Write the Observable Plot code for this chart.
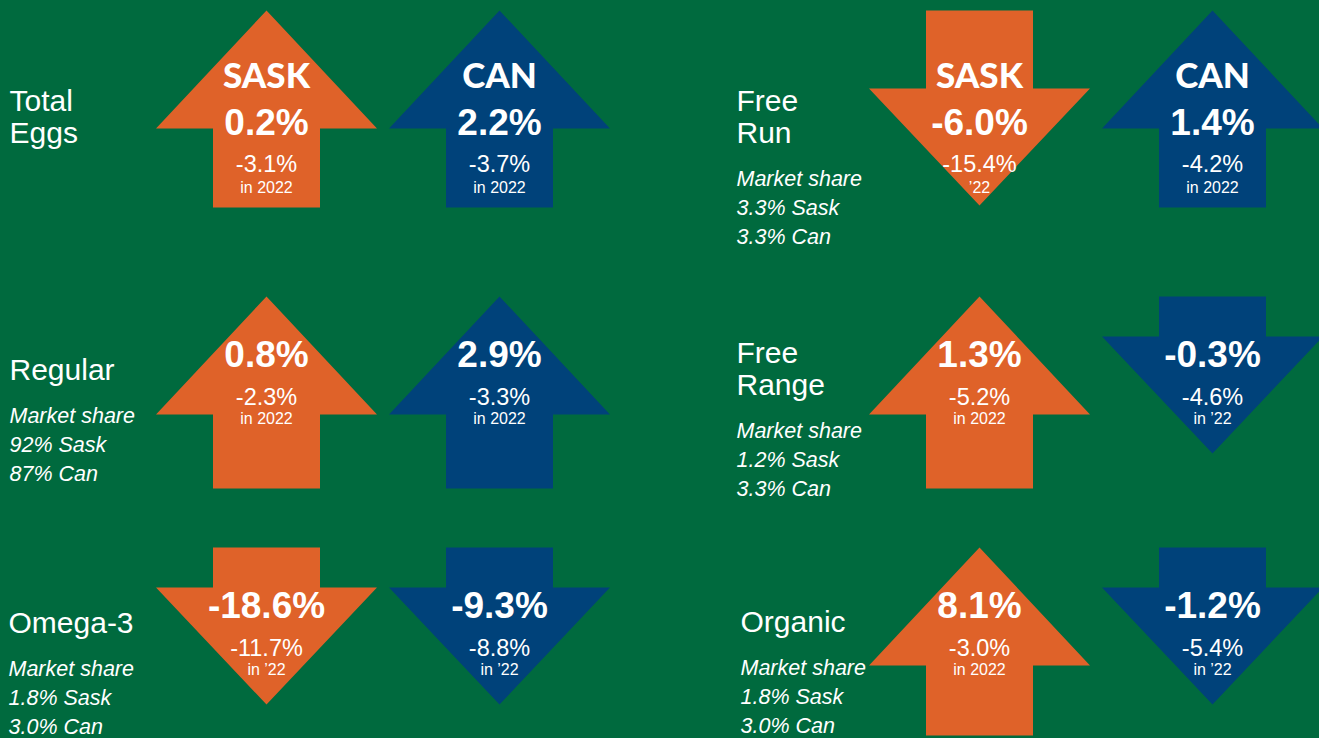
<!DOCTYPE html>
<html>
<head>
<meta charset="utf-8">
<script src="https://cdn.jsdelivr.net/npm/d3@7"></script>
<script src="https://cdn.jsdelivr.net/npm/@observablehq/plot@0.6"></script>
<style>
  html, body { margin: 0; padding: 0; background: #006a3e; overflow: hidden; }
  #chart svg { display: block; }
</style>
</head>
<body>
<div id="chart"></div>
<script>
// ---- Data ----
const categories = ["Total Eggs", "Regular", "Omega-3", "Free Run", "Free Range", "Organic"];
const series = ["SASK", "CAN"];
const sask2023 = [0.2, 0.8, -18.6, -6.0, 1.3, 8.1];
const can2023 = [2.2, 2.9, -9.3, 1.4, -0.3, -1.2];
const sask2022 = [-3.1, -2.3, -11.7, -15.4, -5.2, -3.0];
const can2022 = [-3.7, -3.3, -8.8, -4.2, -4.6, -5.4];
const saskYearLabel = ["in 2022", "in 2022", "in \u201922", "\u201922", "in 2022", "in 2022"];
const canYearLabel = ["in 2022", "in 2022", "in \u201922", "in 2022", "in \u201922", "in \u201922"];
const shareSask = [null, 92, 1.8, 3.3, 1.2, 1.8];
const shareCan = [null, 87, 3.0, 3.3, 3.3, 3.0];

// ---- Layout (styling only) ----
const W = 1319, H = 738;
const ORANGE = "#df6229", BLUE = "#00427a", GREEN = "#006a3e";
const rowTop = [10, 296, 547];
const colX = [[266, 499], [979, 1212]];
const upLen = [197, 192, 188];
const headH = 118, headHalf = 110.5, shaftHalf = 53.5;
const slotNameX = [[9, 9, 8], [736, 736, 740]];
const slotNameY = [[101, 370, 623], [101, 353, 622]];

const fmtPct = v => v.toFixed(1) + "%";
const fmtShare = v => (Math.abs(v) >= 10 ? v.toFixed(0) : v.toFixed(1)) + "%";

const arrowPts = [];
const headers = [], values = [], subs = [], years = [];
const names = [], shares = [];

categories.forEach((cat, i) => {
  const panel = Math.floor(i / 3), row = i % 3;
  const top = rowTop[row];
  const v23 = [sask2023[i], can2023[i]];
  const v22 = [sask2022[i], can2022[i]];
  const yl = [saskYearLabel[i], canYearLabel[i]];
  series.forEach((s, j) => {
    const cx = colX[panel][j];
    const id = cat + "-" + s;
    const v = v23[j];
    let pts;
    if (v >= 0) {
      const bottom = top + upLen[row];
      const hb = top + headH;
      pts = [[cx, top], [cx + headHalf, hb], [cx + shaftHalf, hb], [cx + shaftHalf, bottom],
             [cx - shaftHalf, bottom], [cx - shaftHalf, hb], [cx - headHalf, hb]];
    } else {
      const shaft = row === 0 ? 78 : 40;
      const hb = top + shaft;
      const tip = hb + 117;
      pts = [[cx - shaftHalf, top], [cx + shaftHalf, top], [cx + shaftHalf, hb], [cx + headHalf, hb],
             [cx, tip], [cx - headHalf, hb], [cx - shaftHalf, hb]];
    }
    pts.forEach(([x, y]) => arrowPts.push({id, series: s, x, y}));
    if (row === 0) headers.push({x: cx, y: top + 66, text: s});
    values.push({x: cx, y: top + (row === 0 ? 113 : 59), text: fmtPct(v)});
    subs.push({x: cx, y: top + (row === 0 ? 154 : 101), text: fmtPct(v22[j])});
    years.push({x: cx, y: top + (row === 0 ? 177 : 122), text: yl[j]});
  });
  const nx = slotNameX[panel][row];
  let ny = slotNameY[panel][row];
  const lines = cat.includes(" ") ? cat.split(" ") : [cat];
  lines.forEach((t, k) => names.push({x: nx, y: ny + k * 32, text: t}));
  const last = ny + (lines.length - 1) * 32;
  if (shareSask[i] != null) {
    shares.push({x: nx, y: last + 46, text: "Market share"});
    shares.push({x: nx, y: last + 75, text: fmtShare(shareSask[i]) + " Sask"});
    shares.push({x: nx, y: last + 104, text: fmtShare(shareCan[i]) + " Can"});
  }
});

const SANS = "'Liberation Sans', Arial, Helvetica, sans-serif";
const chart = Plot.plot({
  width: W,
  height: H,
  margin: 0,
  style: {background: GREEN, color: "white", overflow: "hidden"},
  x: {domain: [0, W], axis: null},
  y: {domain: [0, H], range: [0, H], axis: null},
  color: {domain: series, range: [ORANGE, BLUE]},
  marks: [
    Plot.line(arrowPts, {x: "x", y: "y", z: "id", fill: "series", stroke: "none", curve: "linear-closed"}),
    Plot.text(headers, {x: "x", y: "y", text: "text", fill: "white", fontSize: 35, fontWeight: 900, fontFamily: "Lato, 'Open Sans', sans-serif"}),
    Plot.text(values, {x: "x", y: "y", text: "text", fill: "white", fontSize: 37, fontWeight: "bold", fontFamily: SANS}),
    Plot.text(subs, {x: "x", y: "y", text: "text", fill: "white", fontSize: 23.5, fontWeight: 300, fontFamily: SANS}),
    Plot.text(years, {x: "x", y: "y", text: "text", fill: "white", fontSize: 16, fontWeight: 300, fontFamily: SANS}),
    Plot.text(names, {x: "x", y: "y", text: "text", fill: "white", fontSize: 30, textAnchor: "start", fontFamily: SANS}),
    Plot.text(shares, {x: "x", y: "y", text: "text", fill: "white", fontSize: 21.5, fontStyle: "italic", fontWeight: 300, textAnchor: "start", fontFamily: SANS})
  ]
});
document.getElementById("chart").appendChild(chart);
</script>
</body>
</html>
